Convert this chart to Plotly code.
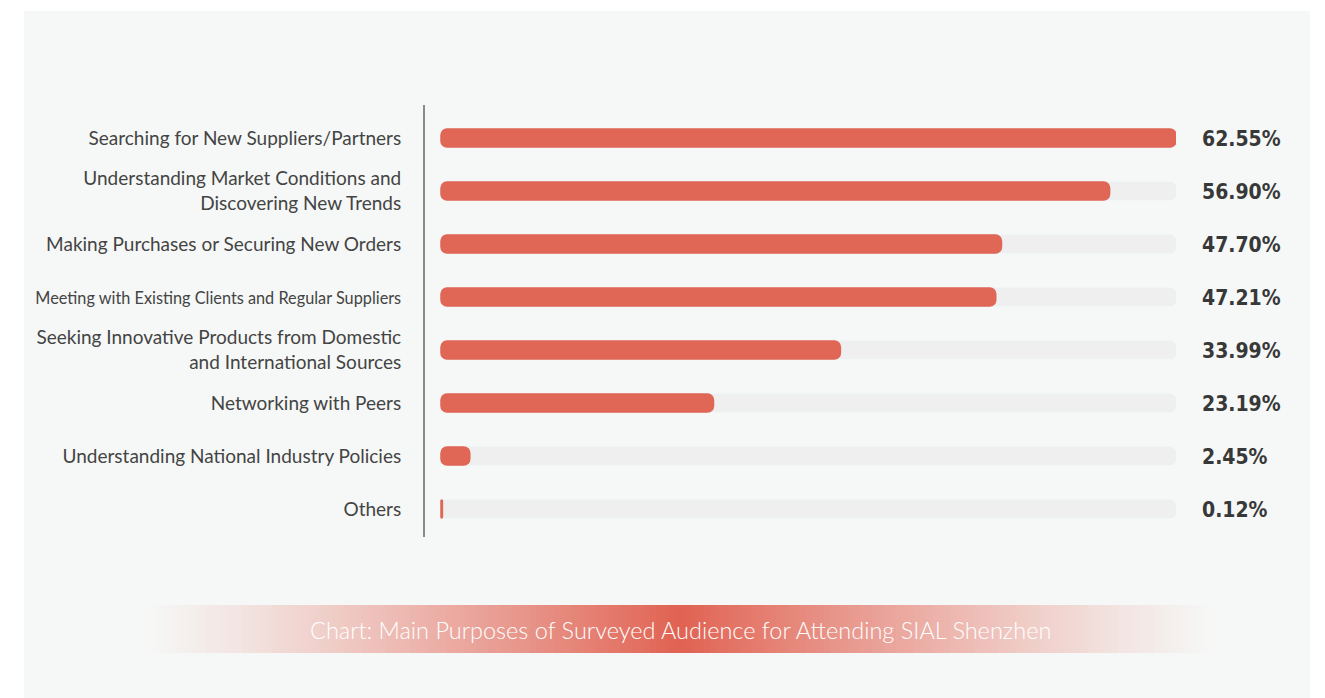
import plotly.graph_objects as go

categories = [
    "Searching for New Suppliers/Partners",
    "Understanding Market Conditions and<br>Discovering New Trends",
    "Making Purchases or Securing New Orders",
    "Meeting with Existing Clients and Regular Suppliers",
    "Seeking Innovative Products from Domestic<br>and International Sources",
    "Networking with Peers",
    "Understanding National Industry Policies",
    "Others",
]
values = [62.55, 56.90, 47.70, 47.21, 33.99, 23.19, 2.45, 0.12]
value_labels = [f"{v:.2f}%" for v in values]
caption = "Chart: Main Purposes of Surveyed Audience for Attending SIAL Shenzhen"

W, H = 1325, 698
L, R, T, B = 425, 1176, 105, 537
pw, ph = R - L, B - T
vmax = max(values)
x0 = -16 / 735 * vmax

def px(x):
    return (x - L) / pw

def py(y):
    return (B - y) / ph

BAR = "#e06656"
TRACK = "#efefef"

# tick text: the long 4th label is set in a tighter size, as in the source
ticktext = [
    f'<span style="font-size:16.3px">{c}</span>' if len(c) > 45 and "<br>" not in c else c
    for c in categories
]

fig = go.Figure()
fig.add_trace(go.Bar(
    y=categories, x=[vmax] * len(values), base=0, orientation="h",
    marker=dict(color=TRACK, cornerradius=6), width=0.34,
    hoverinfo="skip", showlegend=False,
))
fig.add_trace(go.Bar(
    y=categories, x=values, base=0, orientation="h",
    marker=dict(color=BAR, cornerradius=6, line=dict(color=BAR, width=1.5)), width=0.34,
    showlegend=False,
))

for c, t in zip(categories, value_labels):
    fig.add_annotation(
        x=vmax, y=c, xref="x", yref="y", text=t, showarrow=False,
        xanchor="left", xshift=24, yshift=-1,
        font=dict(family="DejaVu Sans Condensed, DejaVu Sans", size=21, color="#383838", weight="bold"),
    )

shapes = []
shapes.append(dict(type="rect", xref="paper", yref="paper", x0=px(24), x1=px(1310), y0=py(11), y1=py(705),
                   fillcolor="#f6f8f7", line=dict(width=0), layer="below"))
cx, n, sw = 680, 90, 6
for side in (-1, 1):
    for i in range(n):
        a0 = cx + side * i * sw
        a1 = cx + side * (i + 1) * sw
        frac = 1 - (i + 0.5) / n
        alpha = frac ** 1.2
        shapes.append(dict(type="rect", xref="paper", yref="paper",
                           x0=px(min(a0, a1)), x1=px(max(a0, a1)),
                           y0=py(653), y1=py(605),
                           fillcolor=f"rgba(224,98,82,{alpha:.3f})", line=dict(width=0), layer="below"))
fig.update_layout(shapes=shapes)

fig.add_annotation(x=px(680), y=py(630), xref="paper", yref="paper", text=caption, showarrow=False,
                   font=dict(family="Lato", size=23.5, color="white", weight=300), xanchor="center", yanchor="middle")

fig.update_layout(
    width=W, height=H, barmode="overlay",
    margin=dict(l=L, r=W - R, t=T, b=H - B, pad=0),
    paper_bgcolor="white", plot_bgcolor="rgba(0,0,0,0)",
    xaxis=dict(range=[x0, vmax], visible=False, fixedrange=True),
    yaxis=dict(categoryorder="array", categoryarray=categories, range=[7.528, -0.623],
               tickmode="array", tickvals=categories, ticktext=ticktext,
               showgrid=False, zeroline=False, showline=True, linecolor="#8a8a8a", linewidth=2,
               ticks="", ticklabelstandoff=18,
               tickfont=dict(family="Lato", size=19, color="#444444")),
)

fig.write_html("out.html")
